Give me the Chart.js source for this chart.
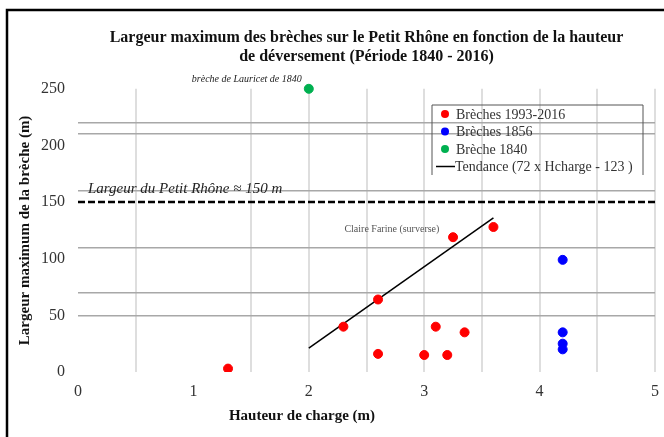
<!DOCTYPE html>
<html>
<head>
<meta charset="utf-8">
<script src="https://cdn.jsdelivr.net/npm/chart.js@4.4.0/dist/chart.umd.min.js"></script>
<style>
  html, body { margin: 0; padding: 0; background: #fff; }
  #wrap { width: 664px; height: 437px; }
</style>
</head>
<body>
<div id="wrap"><canvas id="brechesChart" width="664" height="437"></canvas></div>
<script>
// Brèches 1993-2016
const recentX = [1.3, 2.3, 2.6, 2.6, 3.0, 3.1, 3.2, 3.35, 3.25, 3.6];
const recentY = [3, 40, 64, 16, 15, 40, 15, 35, 119, 128];
// Brèches 1856
const x1856 = [4.2, 4.2, 4.2, 4.2];
const y1856 = [99, 35, 25, 20];
// Brèche 1840
const x1840 = [2];
const y1840 = [250];
// Tendance (72 x Hcharge - 123)
const trendX = [2, 3.6];
const trendY = [21, 136];
// Largeur du Petit Rhône
const rhoneX = [0, 5];
const rhoneY = [150, 150];

const yTickValues = [0, 50, 70, 100, 110, 150, 160, 200, 210, 220, 250];
const yGridValues = [50, 70, 110, 160, 210, 220];
const xHiddenGrid = [0, 1];

const toPoints = (xs, ys) => xs.map((x, i) => ({ x: x, y: ys[i] }));

const serif = '"Liberation Serif", "Times New Roman", serif';

// frame, legend box, annotations and x title
const extras = {
  id: 'extras',
  beforeDraw(chart) {
    const c = chart.ctx;
    c.save();
    c.fillStyle = '#fff';
    c.fillRect(0, 0, chart.width, chart.height);
    c.strokeStyle = '#000';
    c.lineWidth = 2.5;
    c.beginPath();
    c.moveTo(7, chart.height);
    c.lineTo(7, 10);
    c.lineTo(chart.width, 10);
    c.stroke();
    c.restore();
  },
  afterDraw(chart) {
    const c = chart.ctx;
    const xs = chart.scales.x, ys = chart.scales.y;
    c.save();

    // annotations
    c.fillStyle = '#222';
    c.font = 'italic 10px ' + serif;
    c.textAlign = 'right';
    c.textBaseline = 'middle';
    c.fillText('brèche de Lauricet de 1840', xs.getPixelForValue(2) - 7, ys.getPixelForValue(250) - 9);

    c.font = 'italic 15px ' + serif;
    c.textAlign = 'left';
    c.fillText('Largeur du Petit Rhône ≈ 150 m', xs.getPixelForValue(0) + 10, ys.getPixelForValue(150) - 13);

    c.fillStyle = '#555';
    c.font = '10px ' + serif;
    c.textAlign = 'center';
    c.fillText('Claire Farine (surverse)', xs.getPixelForValue(2.72), ys.getPixelForValue(126));

    // x axis title
    c.fillStyle = '#111';
    c.font = 'bold 15px ' + serif;
    c.fillText('Hauteur de charge (m)', 302, 416);

    // legend
    const lx = 432, ly = 105, lw = 211, lh = 70;
    c.strokeStyle = '#555';
    c.lineWidth = 1;
    c.beginPath();
    c.moveTo(lx, ly + lh);
    c.lineTo(lx, ly);
    c.lineTo(lx + lw, ly);
    c.lineTo(lx + lw, ly + lh);
    c.stroke();
    c.font = '14px ' + serif;
    c.textAlign = 'left';
    c.fillStyle = '#333';
    const items = chart.data.datasets.filter(d => !d.hideLegend);
    items.forEach((d, i) => {
      const y = ly + 9 + i * 17.5;
      if (d.showLine) {
        c.strokeStyle = '#000';
        c.lineWidth = 1.5;
        c.beginPath();
        c.moveTo(lx + 4, y);
        c.lineTo(lx + 23, y);
        c.stroke();
        c.fillStyle = '#333';
        c.fillText(d.label, lx + 23, y + 1);
      } else {
        c.fillStyle = d.backgroundColor;
        c.beginPath();
        c.arc(lx + 13, y, 4, 0, Math.PI * 2);
        c.fill();
        c.fillStyle = '#333';
        c.fillText(d.label, lx + 24, y + 1);
      }
    });
    c.restore();
  }
};

new Chart(document.getElementById('brechesChart').getContext('2d'), {
  type: 'scatter',
  data: {
    datasets: [
      {
        label: 'Brèches 1993-2016',
        data: toPoints(recentX, recentY),
        backgroundColor: '#ff0000',
        borderColor: '#ff0000',
        pointRadius: 4.5,
      },
      {
        label: 'Brèches 1856',
        data: toPoints(x1856, y1856),
        backgroundColor: '#0000ff',
        borderColor: '#0000ff',
        pointRadius: 4.5,
      },
      {
        label: 'Brèche 1840',
        data: toPoints(x1840, y1840),
        backgroundColor: '#00b050',
        borderColor: '#00b050',
        pointRadius: 4.5,
        clip: false,
      },
      {
        label: 'Tendance (72 x Hcharge - 123 )',
        data: toPoints(trendX, trendY),
        showLine: true,
        borderColor: '#000',
        borderWidth: 1.5,
        pointRadius: 0,
      },
      {
        label: 'Largeur du Petit Rhône',
        data: toPoints(rhoneX, rhoneY),
        showLine: true,
        borderColor: '#000',
        borderWidth: 2.5,
        borderDash: [7, 3],
        pointRadius: 0,
        hideLegend: true,
        clip: false,
      },
    ],
  },
  options: {
    responsive: false,
    animation: false,
    layout: { padding: { left: 12, right: 9, top: 0, bottom: 0 } },
    plugins: {
      legend: { display: false },
      tooltip: { enabled: false },
      title: {
        display: true,
        fullSize: false,
        text: ['Largeur maximum des brèches sur le Petit Rhône en fonction de la hauteur', 'de déversement (Période 1840 - 2016)'],
        color: '#111',
        font: { family: serif, size: 16, weight: 'bold', lineHeight: 1.15 },
        padding: { top: 29, bottom: 23 },
      },
    },
    scales: {
      x: {
        type: 'linear',
        min: 0,
        max: 5,
        afterFit: (s) => { s.height = 65; s.paddingRight = 0; s.paddingLeft = 0; },
        border: { display: false },
        grid: {
          drawTicks: false,
          lineWidth: 2,
          color: (ctx) => xHiddenGrid.includes(ctx.tick.value) ? 'rgba(0,0,0,0)' : '#dedede',
        },
        ticks: {
          stepSize: 0.5,
          autoSkip: false,
          maxRotation: 0,
          padding: 10,
          color: '#333',
          font: { family: serif, size: 16 },
          callback: (v) => Number.isInteger(v) ? v : '',
        },
      },
      y: {
        min: 0,
        max: 250,
        afterFit: (s) => { s.width = 66; },
        afterBuildTicks: (s) => { s.ticks = yTickValues.map(v => ({ value: v })); },
        border: { display: false },
        grid: {
          drawTicks: false,
          lineWidth: 1.5,
          color: (ctx) => yGridValues.includes(ctx.tick.value) ? '#a8a8a8' : 'rgba(0,0,0,0)',
        },
        ticks: {
          autoSkip: false,
          padding: 13,
          color: '#333',
          font: { family: serif, size: 16 },
          callback: (v) => v % 50 === 0 ? v : '',
        },
        title: {
          display: true,
          text: 'Largeur maximum de la brèche (m)',
          color: '#111',
          font: { family: serif, size: 15, weight: 'bold' },
          padding: { top: 4, bottom: 4 },
        },
      },
    },
  },
  plugins: [extras],
});
</script>
</body>
</html>
